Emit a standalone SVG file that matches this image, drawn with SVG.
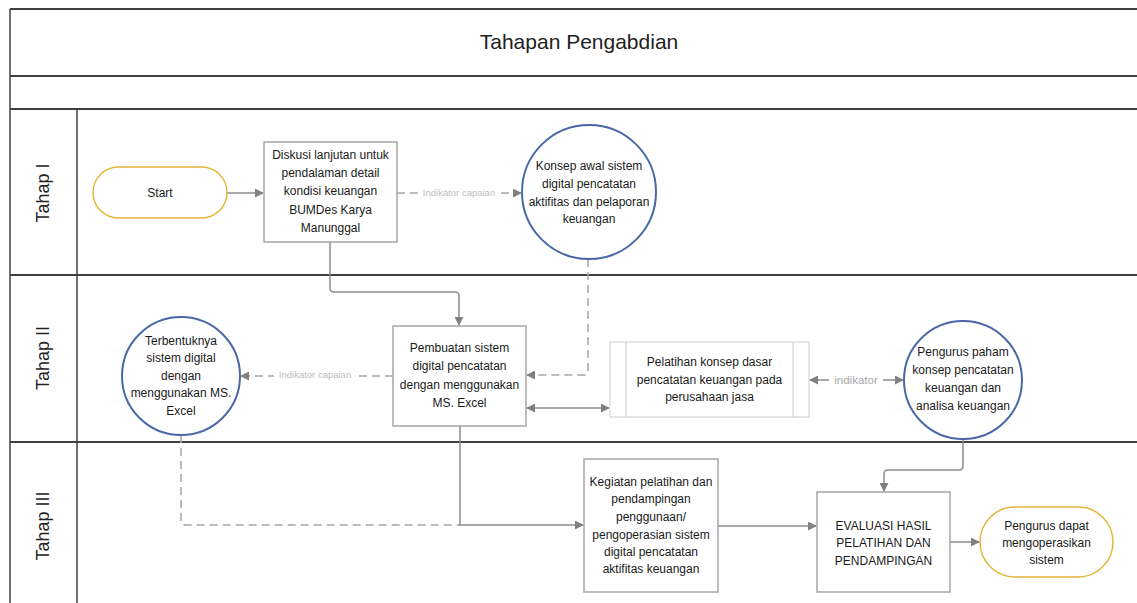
<svg xmlns="http://www.w3.org/2000/svg" width="1137" height="603" viewBox="0 0 1137 603">
<defs>
<marker id="arr" viewBox="0 0 10 10" refX="9" refY="5" markerWidth="9" markerHeight="9" markerUnits="userSpaceOnUse" orient="auto-start-reverse">
<path d="M0,0 L10,5 L0,10 z" fill="#808080"/>
</marker>
<style>
.frame{stroke:#404040;fill:none}
.t{font-family:"Liberation Sans",Arial,sans-serif;font-size:12px;fill:#1a1a1a;text-anchor:middle}
.lane{font-family:"Liberation Sans",Arial,sans-serif;font-size:18px;fill:#222;text-anchor:middle}
.box{fill:#fff;stroke:#a6a6a6;stroke-width:1.5}
.circ{fill:#fff;stroke:#4a68a8;stroke-width:2}
.pill{fill:#fff;stroke:#e5b73b;stroke-width:1.5}
.c{fill:none;stroke:#8c8c8c;stroke-width:1.5}
.d{fill:none;stroke:#a6a6a6;stroke-width:1.5;stroke-dasharray:8 5}
.lbl{font-family:"Liberation Sans",Arial,sans-serif;font-size:9.5px;fill:#bdbdbd;text-anchor:middle}
</style>
</defs>
<rect width="1137" height="603" fill="#fff"/>
<g id="frame">
<line class="frame" x1="10" y1="9" x2="1137" y2="9" stroke-width="2"/>
<line class="frame" x1="10" y1="76" x2="1137" y2="76" stroke-width="2"/>
<line class="frame" x1="10" y1="109" x2="1137" y2="109" stroke-width="2"/>
<line class="frame" x1="10" y1="275" x2="1137" y2="275" stroke-width="2"/>
<line class="frame" x1="10" y1="442" x2="1137" y2="442" stroke-width="2"/>
<line class="frame" x1="10" y1="9" x2="10" y2="603" stroke-width="1.5"/>
<line class="frame" x1="77" y1="109" x2="77" y2="603" stroke-width="1.5"/>
<text x="579" y="49" font-family="'Liberation Sans',Arial,sans-serif" font-size="21" fill="#222" text-anchor="middle">Tahapan Pengabdian</text>
<text class="lane" transform="translate(49,193) rotate(-90)">Tahap I</text>
<text class="lane" transform="translate(49,358) rotate(-90)">Tahap II</text>
<text class="lane" transform="translate(49,526) rotate(-90)">Tahap III</text>
</g>
<g id="connectors">
<path class="c" d="M227,193 H263" marker-end="url(#arr)"/>
<path class="d" d="M397,193 H521" marker-end="url(#arr)"/>
<rect x="418" y="187" width="82" height="12" fill="#fff"/>
<text class="lbl" x="459" y="196">Indikator capaian</text>
<path class="c" d="M330,242 V288 Q330,292 334,292 H455 Q459,292 459,296 V325" marker-end="url(#arr)"/>
<path class="d" d="M588,259 V371 Q588,375 584,375 H527" marker-end="url(#arr)"/>
<path class="d" d="M393,376 H241" marker-end="url(#arr)"/>
<rect x="274" y="370" width="82" height="12" fill="#fff"/>
<text class="lbl" x="315" y="378">Indikator capaian</text>
<path class="c" d="M527,408 H609" marker-start="url(#arr)" marker-end="url(#arr)"/>
<path class="c" d="M810,380 H903" marker-start="url(#arr)" marker-end="url(#arr)"/>
<rect x="829" y="372" width="54" height="16" fill="#fff"/>
<text x="856" y="384" font-family="'Liberation Sans',Arial,sans-serif" font-size="11.5" fill="#a8a8a8" text-anchor="middle">indikator</text>
<path class="d" d="M181,435 V521 Q181,525 185,525 H460"/>
<path class="c" d="M460,426 V525 H583" marker-end="url(#arr)"/>
<path class="c" d="M718,526 H816" marker-end="url(#arr)"/>
<path class="c" d="M963,439 V466 Q963,470 959,470 H888 Q884,470 884,474 V491" marker-end="url(#arr)"/>
<path class="c" d="M950,542 H979" marker-end="url(#arr)"/>
</g>
<g id="start">
<rect class="pill" x="93" y="167" width="134" height="51" rx="25.5"/>
<text class="t" x="160" y="197">Start</text>
</g>
<g id="diskusi">
<rect class="box" x="264" y="142" width="133" height="100"/>
<text class="t" x="330.5" y="159">Diskusi lanjutan untuk</text>
<text class="t" x="330.5" y="177">pendalaman detail</text>
<text class="t" x="330.5" y="195">kondisi keuangan</text>
<text class="t" x="330.5" y="214">BUMDes Karya</text>
<text class="t" x="330.5" y="232">Manunggal</text>
</g>
<g id="konsep">
<circle class="circ" cx="589" cy="192" r="67"/>
<text class="t" x="589" y="170">Konsep awal sistem</text>
<text class="t" x="589" y="188">digital pencatatan</text>
<text class="t" x="589" y="206">aktifitas dan pelaporan</text>
<text class="t" x="589" y="223">keuangan</text>
</g>
<g id="terbentuknya">
<circle class="circ" cx="181" cy="376" r="59"/>
<text class="t" x="181" y="345">Terbentuknya</text>
<text class="t" x="181" y="362">sistem digital</text>
<text class="t" x="181" y="380">dengan</text>
<text class="t" x="181" y="397">menggunakan MS.</text>
<text class="t" x="181" y="415">Excel</text>
</g>
<g id="pembuatan">
<rect class="box" x="393" y="326" width="133" height="100"/>
<text class="t" x="459.5" y="352">Pembuatan sistem</text>
<text class="t" x="459.5" y="370">digital pencatatan</text>
<text class="t" x="459.5" y="389">dengan menggunakan</text>
<text class="t" x="459.5" y="407">MS. Excel</text>
</g>
<g id="pelatihan">
<rect x="610" y="342" width="199" height="75" fill="#fff" stroke="#d4d4d4" stroke-width="1.2"/>
<line x1="626" y1="342" x2="626" y2="417" stroke="#d4d4d4" stroke-width="1.2"/>
<line x1="793" y1="342" x2="793" y2="417" stroke="#d4d4d4" stroke-width="1.2"/>
<text class="t" x="709.5" y="366">Pelatihan konsep dasar</text>
<text class="t" x="709.5" y="384">pencatatan keuangan pada</text>
<text class="t" x="709.5" y="401">perusahaan jasa</text>
</g>
<g id="pengurus-paham">
<circle class="circ" cx="963" cy="380" r="59"/>
<text class="t" x="963" y="356">Pengurus paham</text>
<text class="t" x="963" y="374">konsep pencatatan</text>
<text class="t" x="963" y="392">keuangan dan</text>
<text class="t" x="963" y="410">analisa keuangan</text>
</g>
<g id="kegiatan">
<rect class="box" x="584" y="459" width="134" height="133"/>
<text class="t" x="651" y="486">Kegiatan pelatihan dan</text>
<text class="t" x="651" y="503">pendampingan</text>
<text class="t" x="651" y="521">penggunaan/</text>
<text class="t" x="651" y="539">pengoperasian sistem</text>
<text class="t" x="651" y="556">digital pencatatan</text>
<text class="t" x="651" y="573">aktifitas keuangan</text>
</g>
<g id="evaluasi">
<rect class="box" x="817" y="492" width="133" height="100"/>
<text class="t" x="883.5" y="530">EVALUASI HASIL</text>
<text class="t" x="883.5" y="547">PELATIHAN DAN</text>
<text class="t" x="883.5" y="565">PENDAMPINGAN</text>
</g>
<g id="pengurus-dapat">
<rect class="pill" x="980" y="507" width="133" height="70" rx="35"/>
<text class="t" x="1046.5" y="530">Pengurus dapat</text>
<text class="t" x="1046.5" y="547">mengoperasikan</text>
<text class="t" x="1046.5" y="564">sistem</text>
</g>
</svg>
